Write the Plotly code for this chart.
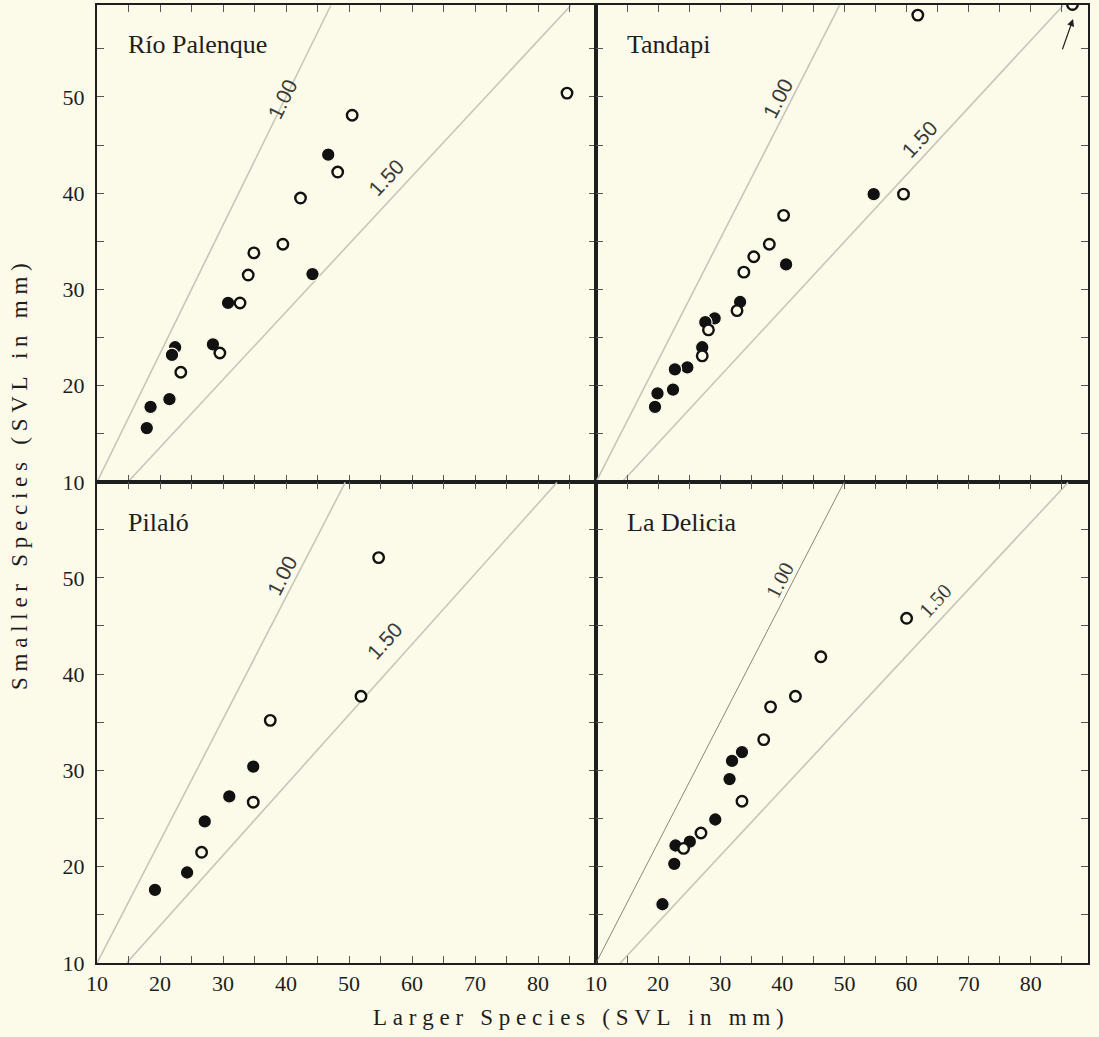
import plotly.graph_objects as go

# ---------------- data ----------------
panel_names = ["Río Palenque", "Tandapi", "Pilaló", "La Delicia"]

rp_filled_x = [17.9, 18.5, 21.5, 22.4, 21.9, 28.4, 30.8, 44.2, 46.7]
rp_filled_y = [15.6, 17.8, 18.6, 24.0, 23.2, 24.3, 28.6, 31.6, 44.0]
rp_open_x = [23.3, 29.5, 32.7, 34.0, 34.9, 39.5, 42.3, 48.2, 50.5, 84.6]
rp_open_y = [21.4, 23.4, 28.6, 31.5, 33.8, 34.7, 39.5, 42.2, 48.1, 50.4]

ta_filled_x = [19.9, 19.5, 24.7, 22.7, 22.4, 27.1, 29.1, 27.6, 33.2, 40.6, 54.7]
ta_filled_y = [19.2, 17.8, 21.9, 21.7, 19.6, 24.0, 27.0, 26.6, 28.7, 32.6, 39.9]
ta_open_x = [27.1, 28.1, 32.7, 33.8, 35.4, 37.9, 40.2, 59.5, 61.8, 86.7]
ta_open_y = [23.1, 25.8, 27.8, 31.8, 33.4, 34.7, 37.7, 39.9, 58.5, 59.6]

pi_filled_x = [19.2, 24.3, 27.1, 31.0, 34.8]
pi_filled_y = [17.6, 19.4, 24.7, 27.3, 30.4]
pi_open_x = [26.6, 34.8, 37.5, 51.9, 54.7]
pi_open_y = [21.5, 26.7, 35.2, 37.7, 52.1]

ld_filled_x = [20.7, 22.6, 22.8, 25.1, 29.2, 31.5, 33.5, 31.9]
ld_filled_y = [16.1, 20.3, 22.2, 22.6, 24.9, 29.1, 31.9, 31.0]
ld_open_x = [24.1, 26.9, 33.5, 37.0, 38.1, 42.1, 46.2, 60.0]
ld_open_y = [21.9, 23.5, 26.8, 33.2, 36.6, 37.7, 41.8, 45.8]

# reference ratio lines (end points)
line_labels = ["1.00", "1.50"]
line100_x = [[10, 47.1], [10, 49.2], [10, 49.4], [10, 49.9]]
line100_y = [[10, 59.5], [10, 59.5], [10, 59.9], [10, 59.9]]
line150_x = [[14.9, 85.2], [14.2, 85.2], [14.7, 83.0], [13.9, 86.0]]
line150_y = [[10, 59.5], [10, 59.5], [10, 59.9], [10, 59.9]]
label100_pos = [(39.5, 49.8), (39.3, 49.8), (39.4, 50.2), (39.6, 49.8)]
label150_pos = [(55.9, 41.6), (62.0, 45.6), (55.7, 43.5), (64.6, 47.6)]
label100_angle = [-64, -63, -63, -63]
label150_angle = [-47, -47, -48, -47]

# arrow in Tandapi pointing to the clipped point
arrow_tail = (85.0, 54.8)
arrow_head = (86.8, 58.1)

x_ticks = [10, 20, 30, 40, 50, 60, 70, 80]
y_ticks = [10, 20, 30, 40, 50]

filled = [(rp_filled_x, rp_filled_y), (ta_filled_x, ta_filled_y),
          (pi_filled_x, pi_filled_y), (ld_filled_x, ld_filled_y)]
opened = [(rp_open_x, rp_open_y), (ta_open_x, ta_open_y),
          (pi_open_x, pi_open_y), (ld_open_x, ld_open_y)]

# ---------------- styling ----------------
BG = "#fcfae8"
INK = "#1e1e1e"
SERIF = "Liberation Serif"
SANS = "Liberation Sans"
NB = "\u00a0"

def spaced(s):
    words = s.split(" ")
    return (NB * 3).join(NB.join(list(w)) for w in words)

W, H = 1099, 1037
ML, MR, MT, MB = 97, 11, 3, 74
pw, ph = W - ML - MR, H - MT - MB
xsplit = (596 - ML) / pw
ysplit = (963 - 481) / ph

xdoms = [[0, xsplit], [xsplit, 1], [0, xsplit], [xsplit, 1]]
ydoms = [[ysplit, 1], [ysplit, 1], [0, ysplit], [0, ysplit]]
yranges = [[10, 59.55], [10, 59.55], [10, 59.95], [10, 59.95]]

fig = go.Figure()
annotations = []

for i in range(4):
    xa = "x" if i == 0 else f"x{i+1}"
    ya = "y" if i == 0 else f"y{i+1}"
    # ratio lines
    lc100 = "#7a7a72" if i == 3 else "#c6c6ba"
    lw100 = 0.9 if i == 3 else 1.6
    fig.add_trace(go.Scatter(x=line100_x[i], y=line100_y[i], mode="lines",
                             line=dict(color=lc100, width=lw100),
                             xaxis=xa, yaxis=ya, showlegend=False, hoverinfo="skip"))
    fig.add_trace(go.Scatter(x=line150_x[i], y=line150_y[i], mode="lines",
                             line=dict(color="#c6c6ba", width=1.6),
                             xaxis=xa, yaxis=ya, showlegend=False, hoverinfo="skip"))
    # points
    fx, fy = filled[i]
    fig.add_trace(go.Scatter(x=fx, y=fy, mode="markers",
                             marker=dict(size=13.5, color="#111111",
                                         line=dict(color=BG, width=1.2)),
                             xaxis=xa, yaxis=ya, showlegend=False))
    ox, oy = opened[i]
    fig.add_trace(go.Scatter(x=ox, y=oy, mode="markers",
                             marker=dict(size=10.5, color=BG,
                                         line=dict(color="#111111", width=2.4)),
                             xaxis=xa, yaxis=ya, showlegend=False))
    # line labels
    lfont = SERIF if i == 3 else SANS
    annotations.append(dict(x=label100_pos[i][0], y=label100_pos[i][1], xref=xa, yref=ya,
                            text=line_labels[0], showarrow=False, textangle=label100_angle[i],
                            font=dict(family=lfont, size=21, color="#3a3a3a")))
    annotations.append(dict(x=label150_pos[i][0], y=label150_pos[i][1], xref=xa, yref=ya,
                            text=line_labels[1], showarrow=False, textangle=label150_angle[i],
                            font=dict(family=lfont, size=21, color="#3a3a3a")))
    # panel title
    annotations.append(dict(x=29 / 499, y=1 - 40 / 480, xref=f"{xa} domain", yref=f"{ya} domain",
                            text=panel_names[i], showarrow=False, xanchor="left", yanchor="middle",
                            font=dict(family=SERIF, size=26, color=INK)))

annotations.append(dict(x=arrow_head[0], y=arrow_head[1], ax=arrow_tail[0], ay=arrow_tail[1],
                        xref="x2", yref="y2", axref="x2", ayref="y2", text="",
                        showarrow=True, arrowhead=2, arrowsize=1.2, arrowwidth=1.2,
                        arrowcolor="#222222"))

annotations.append(dict(x=(578 - ML) / pw, y=(H - MB - 1018) / ph, xref="paper", yref="paper",
                        text=spaced("Larger Species (SVL in mm)"), showarrow=False,
                        xanchor="center", yanchor="middle",
                        font=dict(family=SERIF, size=23, color=INK)))
annotations.append(dict(x=(19 - ML) / pw, y=(H - MB - 476) / ph, xref="paper", yref="paper",
                        text=spaced("Smaller Species (SVL in mm)"), showarrow=False,
                        textangle=-90, xanchor="center", yanchor="middle",
                        font=dict(family=SERIF, size=23, color=INK)))

layout = dict(width=W, height=H, margin=dict(l=ML, r=MR, t=MT, b=MB, pad=0),
              paper_bgcolor=BG, plot_bgcolor=BG, showlegend=False,
              font=dict(family=SERIF, color=INK),
              annotations=annotations)

for i in range(4):
    xk = "xaxis" if i == 0 else f"xaxis{i+1}"
    yk = "yaxis" if i == 0 else f"yaxis{i+1}"
    ya = "y" if i == 0 else f"y{i+1}"
    xa = "x" if i == 0 else f"x{i+1}"
    common = dict(showline=True, linecolor=INK, linewidth=2, mirror="ticks",
                  ticks="inside", ticklen=7, tickwidth=1, tickcolor="#555555",
                  showgrid=False, zeroline=False,
                  tickfont=dict(family=SERIF, size=22, color=INK),
                  minor=dict(ticks="inside", ticklen=7, tickwidth=1,
                             tickcolor="#555555", showgrid=False))
    layout[xk] = dict(common, domain=xdoms[i], range=[10, 89.2], anchor=ya,
                      tickmode="array", tickvals=x_ticks,
                      showticklabels=(i >= 2))
    layout[yk] = dict(common, domain=ydoms[i], range=yranges[i], anchor=xa,
                      tickmode="array", tickvals=y_ticks,
                      showticklabels=(i % 2 == 0), ticklabelstandoff=6)
    layout[xk]["minor"] = dict(common["minor"], tickvals=[15, 25, 35, 45, 55, 65, 75, 85])
    layout[yk]["minor"] = dict(common["minor"], tickvals=[15, 25, 35, 45, 55])

fig.update_layout(**layout)

fig.write_html("out.html", config={"displayModeBar": False},
               post_script="document.body.style.margin='0';document.body.style.background='%s';" % BG)
